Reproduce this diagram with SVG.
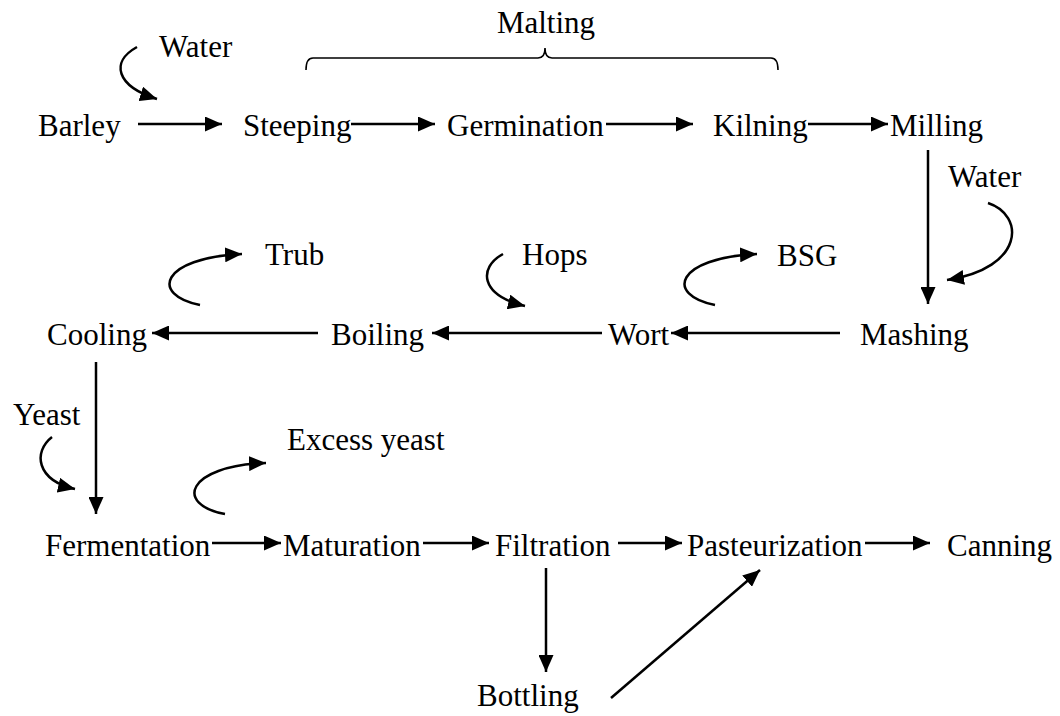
<svg xmlns="http://www.w3.org/2000/svg" width="1060" height="716" viewBox="0 0 1060 716">
<style>
text{font-size:31px;fill:#000}
.ln{stroke:#000;stroke-width:2.5;fill:none}
.br{stroke:#000;stroke-width:1.6;fill:none}
</style>
<defs>
<marker id="ah" markerUnits="userSpaceOnUse" markerWidth="17" markerHeight="15" refX="17" refY="7.5" orient="auto" viewBox="0 0 17 15">
<path d="M0,0 L17,7.5 L0,15 z" fill="#000"/>
</marker>
</defs>
<rect width="1060" height="716" fill="#fff"/>
<g id="nodes" font-family="Liberation Serif, Times New Roman, DejaVu Serif, serif">
<g id="malting"><text x="546" y="33" text-anchor="middle">Malting</text>
<path class="br" d="M306,70 Q306,58 313,58 L538,58 Q545,58 545,48 Q545,58 552,58 L771,58 Q778,58 778,70"/></g>
<g id="water1"><text x="159" y="57">Water</text></g>
<g id="barley"><text x="38" y="136">Barley</text></g>
<g id="steeping"><text x="243" y="136">Steeping</text></g>
<g id="germination"><text x="447" y="136">Germination</text></g>
<g id="kilning"><text x="713" y="136">Kilning</text></g>
<g id="milling"><text x="890" y="136">Milling</text></g>
<g id="water2"><text x="948" y="187">Water</text></g>
<g id="trub"><text x="265" y="265">Trub</text></g>
<g id="hops"><text x="522" y="265">Hops</text></g>
<g id="bsg"><text x="777" y="266">BSG</text></g>
<g id="cooling"><text x="47" y="345">Cooling</text></g>
<g id="boiling"><text x="331" y="345">Boiling</text></g>
<g id="wort"><text x="608" y="345">Wort</text></g>
<g id="mashing"><text x="860" y="345">Mashing</text></g>
<g id="yeast"><text x="13" y="425">Yeast</text></g>
<g id="excess"><text x="287" y="450">Excess yeast</text></g>
<g id="fermentation"><text x="45" y="556">Fermentation</text></g>
<g id="maturation"><text x="283" y="556">Maturation</text></g>
<g id="filtration"><text x="495" y="556">Filtration</text></g>
<g id="pasteurization"><text x="687" y="556">Pasteurization</text></g>
<g id="canning"><text x="947" y="556">Canning</text></g>
<g id="bottling"><text x="477" y="706">Bottling</text></g>
</g>
<g id="connectors">
<path class="ln" marker-end="url(#ah)" d="M138,124 H222"/>
<path class="ln" marker-end="url(#ah)" d="M351,124 H435"/>
<path class="ln" marker-end="url(#ah)" d="M606,124 H693"/>
<path class="ln" marker-end="url(#ah)" d="M808,124 H888"/>
<path class="ln" marker-end="url(#ah)" d="M137,47 C110,62 116,86 157,99"/>
<path class="ln" marker-end="url(#ah)" d="M928,150 V304"/>
<path class="ln" marker-end="url(#ah)" d="M988,203 C1025,215 1025,268 947,280"/>
<path class="ln" marker-end="url(#ah)" d="M840,333 H671"/>
<path class="ln" marker-end="url(#ah)" d="M602,333 H432"/>
<path class="ln" marker-end="url(#ah)" d="M318,333 H152"/>
<path class="ln" marker-end="url(#ah)" d="M200,305 C150,295 160,258 242,254"/>
<path class="ln" marker-end="url(#ah)" d="M715,305 C665,295 675,258 757,254"/>
<path class="ln" marker-end="url(#ah)" d="M503,254 C478,268 480,295 525,306"/>
<path class="ln" marker-end="url(#ah)" d="M96,362 V514"/>
<path class="ln" marker-end="url(#ah)" d="M52,437 C33,452 36,480 75,489"/>
<path class="ln" marker-end="url(#ah)" d="M225,514 C175,505 185,466 266,463"/>
<path class="ln" marker-end="url(#ah)" d="M212,543 H281"/>
<path class="ln" marker-end="url(#ah)" d="M423,543 H489"/>
<path class="ln" marker-end="url(#ah)" d="M618,543 H682"/>
<path class="ln" marker-end="url(#ah)" d="M865,543 H930"/>
<path class="ln" marker-end="url(#ah)" d="M546,568 V672"/>
<path class="ln" marker-end="url(#ah)" d="M611,698 L760,570"/>
</g>
</svg>
